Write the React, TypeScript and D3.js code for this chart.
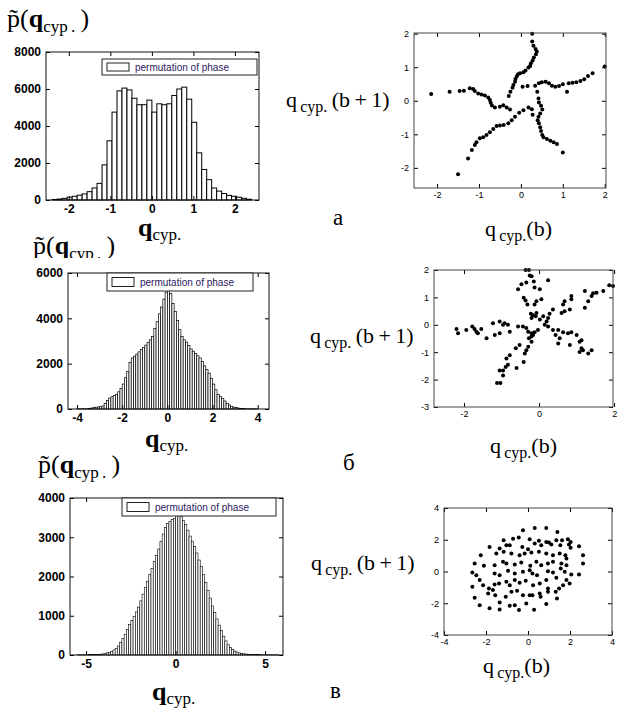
import React, { useEffect, useRef } from "react";
import * as d3 from "d3";

const serif = "'Liberation Serif', 'Times New Roman', serif";
const sans = "'Liberation Sans', Arial, sans-serif";

// ---- histogram а : 40 bins of 0.12 starting at -2.4
const hist1Start = -2.4;
const hist1Step = 0.12;
const hist1Counts = [
  30, 50, 90, 150, 200, 260, 330, 450, 650, 900, 1900,
  3200, 4750, 5900, 6050, 5950, 5500, 5150, 5150, 5400, 4750, 5200, 5150, 5200, 5650, 6000, 6100, 5450, 4200,
  2550, 1650, 1100, 650, 480, 350, 250, 200, 150, 90, 40,
];
const hist1XTicks = [-2, -1, 0, 1, 2];
const hist1YTicks = [0, 2000, 4000, 6000, 8000];

// ---- histogram б : 80 bins of 0.1 starting at -4
const hist2Start = -4;
const hist2Step = 0.1;
const hist2Counts = [
  10, 10, 10, 10, 15, 20, 40, 70, 80, 90,
  100, 130, 250, 380, 480, 540, 600, 650, 760, 900,
  1100, 1380, 1650, 2050, 2250, 2330, 2420, 2520, 2620, 2720,
  2820, 2930, 3050, 3200, 3550, 3850, 4200, 4500, 4850, 5150,
  5300, 5100, 4650, 4300, 3900, 3500, 3200, 3050, 2950, 2800,
  2650, 2550, 2450, 2350, 2250, 2100, 1900, 1750, 1580, 1350,
  1100, 850, 650, 550, 470, 350, 250, 180, 120, 80,
  60, 40, 30, 20, 15, 10, 10, 10, 10, 10,
];
const hist2XTicks = [-4, -2, 0, 2, 4];
const hist2YTicks = [0, 2000, 4000, 6000];

// ---- histogram в : 90 bins of 0.125 starting at -5.5
const hist3Start = -5.5;
const hist3Step = 0.125;
const hist3Counts = [
  5, 5, 5, 5, 5, 8, 8, 10,
  12, 15, 20, 25, 40, 55, 70, 90,
  130, 170, 230, 320, 420, 530, 650, 780,
  880, 980, 1100, 1220, 1380, 1550, 1720, 1880,
  2050, 2200, 2380, 2530, 2700, 2900, 3080, 3250,
  3350, 3400, 3450, 3480, 3550, 3600, 3520, 3430,
  3330, 3180, 3030, 2900, 2760, 2600, 2420, 2250,
  2050, 1850, 1650, 1450, 1250, 1080, 920, 760,
  620, 480, 360, 260, 190, 140, 100, 75,
  55, 40, 30, 25, 18, 15, 12, 10,
  8, 8, 6, 6, 5, 5, 5, 5, 5, 5,
];
const hist3XTicks = [-5, 0, 5];
const hist3YTicks = [0, 1000, 2000, 3000, 4000];

const legendLabel = "permutation of phase";

// ---- scatter а : q(b), q(b+1)
const scatter1Points: [number, number][] = [
  [0.27, 2.0], [0.27, 1.77], [0.3, 1.64], [0.35, 1.54], [0.38, 1.47], [0.36, 1.39], [0.31, 1.29], [0.28, 1.2],
  [0.24, 1.12], [0.22, 1.04], [0.18, 0.99], [0.11, 0.9], [0.06, 0.85], [-0.02, 0.82], [-0.07, 0.79], [-0.1, 0.72],
  [-0.13, 0.65], [-0.14, 0.57], [-0.18, 0.47], [-0.2, 0.39], [-0.25, 0.27], [-0.29, 0.14],
  [2.0, 1.02], [1.71, 0.82], [1.6, 0.74], [1.51, 0.64], [1.42, 0.59], [1.32, 0.55], [1.23, 0.54], [1.14, 0.52],
  [1.1, 0.27], [1.0, 0.49], [0.91, 0.44], [0.82, 0.42], [0.74, 0.45], [0.67, 0.52], [0.59, 0.57], [0.5, 0.55],
  [0.43, 0.52], [0.34, 0.45], [0.16, 0.44], [0.04, 0.42],
  [0.39, 0.27], [0.42, 0.07], [0.43, -0.05], [0.48, -0.15], [0.51, -0.26], [0.46, -0.38], [0.42, -0.48], [0.4, -0.58],
  [0.43, -0.67], [0.46, -0.79], [0.48, -0.9], [0.51, -1.02], [0.54, -1.09], [0.62, -1.14], [0.7, -1.19], [0.78, -1.24],
  [0.86, -1.29], [1.0, -1.54], [0.26, -0.25], [0.28, -0.42],
  [-1.5, -2.19], [-1.26, -1.72], [-1.17, -1.47], [-1.1, -1.32], [-1.06, -1.24], [-0.98, -1.12], [-0.9, -1.09],
  [-0.82, -1.02], [-0.74, -0.94], [-0.66, -0.84], [-0.58, -0.75], [-0.5, -0.74], [-0.41, -0.72], [-0.3, -0.67],
  [-0.22, -0.58], [-0.14, -0.48], [-0.04, -0.36], [0.06, -0.28], [0.18, -0.2],
  [-2.14, 0.2], [-1.7, 0.27], [-1.46, 0.29], [-1.36, 0.3], [-1.22, 0.37], [-1.14, 0.35], [-1.1, 0.29], [-1.02, 0.22],
  [-0.94, 0.19], [-0.86, 0.16], [-0.78, 0.1], [-0.74, 0.02], [-0.72, -0.06], [-0.69, -0.14], [-0.62, -0.2],
  [-0.5, -0.18], [-0.42, -0.13], [-0.34, -0.2], [-0.26, -0.26],
];

// ---- scatter б
const scatter2Points: [number, number][] = [
  [-0.36, 2.0], [-0.27, 2.0], [-0.25, 1.8], [-0.2, 1.77], [-0.34, 1.54], [-0.14, 1.58], [-0.47, 1.48], [-0.56, 1.3],
  [-0.12, 1.36], [0.24, 1.63], [0.02, 1.3], [-0.41, 0.99], [-0.36, 0.89], [-0.31, 0.74], [-0.12, 0.74], [-0.07, 0.86],
  [0.06, 0.93], [-0.22, 0.4], [-0.16, 0.35], [-0.09, 0.31], [-0.07, 0.43], [-0.2, 0.25],
  [1.97, 1.42], [1.87, 1.44], [1.71, 1.23], [1.53, 1.17], [1.44, 1.15], [1.4, 1.05], [1.22, 1.23], [1.31, 0.86],
  [1.22, 0.62], [0.86, 1.05], [0.86, 0.93], [0.68, 0.86], [0.64, 0.74], [0.68, 0.49], [0.82, 0.56], [0.6, 0.43],
  [0.37, 0.56], [0.28, 0.4], [0.24, 0.25], [0.11, 0.31], [0.02, 0.19], [0.2, 0.12], [0.15, 0.0],
  [0.24, -0.06], [0.37, -0.19], [0.51, -0.19], [0.44, -0.37], [0.55, -0.49], [0.51, -0.68], [0.64, -0.27],
  [0.77, -0.31], [0.86, -0.27], [0.82, -0.74], [1.0, -0.37], [1.08, -0.62], [1.13, -0.86], [1.08, -0.99],
  [1.17, -0.93], [1.31, -1.05], [1.4, -0.93], [1.13, -0.56],
  [-2.2, -0.15], [-2.16, -0.31], [-1.94, -0.19], [-1.78, -0.06], [-1.72, -0.15], [-1.67, -0.25], [-1.63, -0.31],
  [-1.54, -0.15], [-1.4, -0.49], [-1.23, 0.06], [-1.18, -0.37], [-1.05, 0.12], [-1.05, -0.31], [-0.96, 0.0],
  [-0.92, 0.06], [-0.83, 0.0], [-0.78, -0.25], [-0.56, -0.06], [-0.43, -0.06], [-0.34, -0.12], [-0.29, -0.25],
  [-0.2, -0.31], [-0.12, -0.27], [-0.16, -0.37], [-0.27, -0.49], [-0.03, -0.19],
  [-1.12, -2.12], [-1.03, -2.12], [-0.96, -1.85], [-1.05, -1.67], [-0.96, -1.67], [-0.89, -1.54], [-0.83, -1.46],
  [-0.87, -1.23], [-0.78, -1.11], [-0.62, -0.86], [-0.6, -1.58], [-0.52, -0.74], [-0.41, -1.36], [-0.38, -1.05],
  [-0.34, -0.93], [-0.29, -0.8], [-0.2, -0.62], [-0.2, -0.43],
];

// ---- scatter в
const scatter3Points: [number, number][] = [
  [0.32, 2.74], [0.87, 2.74], [-0.24, 2.6], [1.4, 2.49],
  [-0.71, 2.07], [-0.44, 2.14], [-1.16, 1.97], [0.08, 2.03], [0.52, 1.93], [0.87, 1.86], [1.0, 1.82], [1.35, 1.97],
  [1.62, 1.97], [1.9, 2.03], [2.03, 1.86],
  [-1.83, 1.55], [-1.03, 1.65], [-1.35, 1.45], [-0.87, 1.65], [-0.27, 1.55], [0.0, 1.4], [0.32, 1.76], [0.63, 1.65],
  [1.11, 1.7], [1.54, 1.65], [1.95, 1.7], [2.03, 1.49], [2.43, 1.59], [2.62, 1.03],
  [-2.25, 1.03], [-1.51, 1.13], [-1.16, 1.24], [-0.79, 1.13], [-0.4, 1.03], [-0.16, 1.13], [0.16, 1.19], [0.52, 1.24],
  [0.87, 1.13], [1.19, 1.03], [1.51, 1.13], [1.78, 1.03], [1.83, 0.82],
  [-2.54, 0.5], [-2.1, 0.36], [-1.59, 0.4], [-1.19, 0.61], [-1.03, 0.5], [-0.63, 0.44], [-0.32, 0.57], [0.11, 0.36],
  [0.4, 0.61], [0.63, 0.4], [0.95, 0.5], [1.19, 0.61], [1.59, 0.5], [1.83, 0.4], [2.62, 0.5],
  [-2.65, -0.06], [-2.46, -0.23], [-2.3, -0.54], [-1.59, -0.13], [-1.35, -0.23], [-0.95, 0.04], [-0.63, -0.13],
  [-0.24, -0.02], [0.08, 0.08], [0.21, -0.13], [0.43, -0.23], [0.95, 0.02], [1.19, -0.06], [1.35, -0.4], [1.56, 0.19],
  [1.75, -0.02], [2.06, -0.19], [1.83, -0.54], [2.43, -0.19],
  [-2.65, -0.96], [-2.14, -0.86], [-1.86, -1.07], [-1.67, -1.17], [-1.59, -0.82], [-1.38, -0.75], [-1.03, -0.65],
  [-0.87, -0.86], [-0.63, -0.54], [-0.4, -0.71], [-0.11, -0.59], [0.24, -0.86], [0.56, -0.75], [0.87, -0.54],
  [0.95, -1.07], [1.32, -1.28], [1.48, -1.07], [1.67, -0.86], [1.98, -0.75],
  [-2.54, -1.65], [-1.9, -1.38], [-1.56, -1.49], [-1.35, -1.95], [-1.06, -1.59], [-0.79, -1.28], [-0.52, -1.21],
  [-0.24, -1.49], [0.08, -1.49], [0.21, -1.49], [0.56, -1.38], [0.6, -1.59], [0.95, -1.28], [1.38, -1.7],
  [-2.3, -2.12], [-1.83, -2.32], [-1.35, -2.39], [-0.87, -2.16], [-0.63, -2.12], [-0.43, -2.43], [-0.08, -2.01],
  [0.29, -2.41], [0.87, -2.05],
];
const scatter1XTicks = [-2, -1, 0, 1, 2];
const scatter1YTicks = [-2, -1, 0, 1, 2];
const scatter2XTicks = [-2, 0, 2];
const scatter2YTicks = [-3, -2, -1, 0, 1, 2];
const scatter3Ticks = [-4, -2, 0, 2, 4];

type Box = { left: number; top: number; right: number; bottom: number };
type Sel = d3.Selection<SVGSVGElement, unknown, null, undefined>;

function drawFrame(svg: Sel, box: Box, x: any, y: any, xTicks: number[], yTicks: number[], bold: boolean, size: number) {
  const g = svg.append("g");
  const fmt = (d: any) => String(d);
  const none = () => "";
  const style = (a: any) => {
    a.select(".domain").remove();
    a.selectAll("line").attr("stroke", "#000");
    a.selectAll("text")
      .style("font-family", sans)
      .style("font-size", size + "px")
      .style("font-weight", bold ? "bold" : "normal")
      .attr("fill", "#000");
  };
  g.append("g").attr("transform", `translate(0,${box.bottom})`)
    .call(d3.axisBottom(x).tickValues(xTicks).tickSize(-4).tickPadding(4).tickFormat(fmt)).call(style);
  g.append("g").attr("transform", `translate(0,${box.top})`)
    .call(d3.axisTop(x).tickValues(xTicks).tickSize(-4).tickFormat(none)).call(style);
  g.append("g").attr("transform", `translate(${box.left},0)`)
    .call(d3.axisLeft(y).tickValues(yTicks).tickSize(-4).tickPadding(5).tickFormat(fmt)).call(style);
  g.append("g").attr("transform", `translate(${box.right},0)`)
    .call(d3.axisRight(y).tickValues(yTicks).tickSize(-4).tickFormat(none)).call(style);
  g.append("rect")
    .attr("x", box.left).attr("y", box.top)
    .attr("width", box.right - box.left).attr("height", box.bottom - box.top)
    .attr("fill", "none").attr("stroke", bold ? "#111" : "#444").attr("stroke-width", 1);
}

function drawHist(svg: Sel, box: Box, xDomain: [number, number], yMax: number, start: number, step: number,
  counts: number[], xTicks: number[], yTicks: number[], legend: Box, strokeW: number) {
  const x = d3.scaleLinear().domain(xDomain).range([box.left, box.right]);
  const y = d3.scaleLinear().domain([0, yMax]).range([box.bottom, box.top]);
  svg.append("rect").attr("x", box.left).attr("y", box.top)
    .attr("width", box.right - box.left).attr("height", box.bottom - box.top).attr("fill", "#fff");
  svg.append("g").selectAll("rect").data(counts).enter().append("rect")
    .attr("x", (_d, i) => x(start + i * step))
    .attr("width", (_d, i) => x(start + (i + 1) * step) - x(start + i * step))
    .attr("y", (d) => y(d))
    .attr("height", (d) => y(0) - y(d))
    .attr("fill", "#fff")
    .attr("stroke", "#000")
    .attr("stroke-width", strokeW);
  drawFrame(svg, box, x, y, xTicks, yTicks, true, 12);
  // legend
  svg.append("rect").attr("x", legend.left).attr("y", legend.top)
    .attr("width", legend.right - legend.left).attr("height", legend.bottom - legend.top)
    .attr("fill", "#fff").attr("stroke", "#222");
  const h = legend.bottom - legend.top;
  svg.append("rect").attr("x", legend.left + 5).attr("y", legend.top + h * 0.25)
    .attr("width", 22).attr("height", h * 0.5)
    .attr("fill", "#fff").attr("stroke", "#222");
  svg.append("text").attr("x", legend.left + 33).attr("y", legend.top + h / 2 + 3.5)
    .style("font-family", sans).style("font-size", "10px").attr("fill", "#2d2060")
    .text(legendLabel);
}

function drawScatter(svg: Sel, box: Box, xDomain: [number, number], yDomain: [number, number],
  pts: [number, number][], xTicks: number[], yTicks: number[]) {
  const x = d3.scaleLinear().domain(xDomain).range([box.left, box.right]);
  const y = d3.scaleLinear().domain(yDomain).range([box.bottom, box.top]);
  svg.append("rect").attr("x", box.left).attr("y", box.top)
    .attr("width", box.right - box.left).attr("height", box.bottom - box.top).attr("fill", "#fff");
  svg.append("g").selectAll("circle").data(pts).enter().append("circle")
    .attr("cx", (d) => x(d[0]))
    .attr("cy", (d) => y(d[1]))
    .attr("r", 2)
    .attr("fill", "#000");
  drawFrame(svg, box, x, y, xTicks, yTicks, false, 9);
}

type Part = { t: string; size: number; bold?: boolean; shift?: number };
function richText(svg: Sel, x: number, y: number, parts: Part[]) {
  const text = svg.append("text").attr("x", x).attr("y", y)
    .style("font-family", serif).attr("fill", "#000");
  let cur = 0;
  parts.forEach((p) => {
    const s = p.shift ?? 0;
    text.append("tspan").attr("dy", s - cur)
      .style("font-size", p.size + "px")
      .style("font-weight", p.bold ? "bold" : "normal")
      .text(p.t);
    cur = s;
  });
}

const titleParts: Part[] = [
  { t: "p\u0303", size: 26 }, { t: "(", size: 26 }, { t: "q", size: 26, bold: true },
  { t: "cyp\u2009.", size: 17, shift: 5 }, { t: "\u2009)", size: 26 },
];
const histXParts: Part[] = [{ t: "q", size: 26, bold: true }, { t: "cyp.", size: 17, shift: 4 }];
const yLabelParts: Part[] = [
  { t: "q", size: 22 }, { t: "\u2009cyp.", size: 16, shift: 5 }, { t: "\u2009(b\u2009+\u20091)", size: 22 },
];
const xLabelParts: Part[] = [{ t: "q", size: 22 }, { t: "\u2009cyp.", size: 16, shift: 5 }, { t: "(b)", size: 22 }];

function MakeFigure(ref: React.MutableRefObject<SVGSVGElement | null>) {
  const svg = d3.select(ref.current as SVGSVGElement) as Sel;
  svg.selectAll("*").remove();
  svg.append("rect").attr("width", 626).attr("height", 708).attr("fill", "#fff");

  // row а
  richText(svg, 7, 27, titleParts);
  drawHist(svg, { left: 46, top: 52, right: 259, bottom: 200 }, [-2.55, 2.58], 8000,
    hist1Start, hist1Step, hist1Counts, hist1XTicks, hist1YTicks, { left: 102, top: 59, right: 257, bottom: 75 }, 1);
  richText(svg, 138, 236, histXParts);
  drawScatter(svg, { left: 414, top: 33, right: 606, bottom: 188 }, [-2.55, 2.03], [-2.6, 2.02],
    scatter1Points, scatter1XTicks, scatter1YTicks);
  richText(svg, 286, 107, yLabelParts);
  richText(svg, 485, 236, xLabelParts);
  svg.append("text").attr("x", 333).attr("y", 225).style("font-family", serif).style("font-size", "23px").text("а");

  // row б
  richText(svg, 33, 254, titleParts);
  svg.append("rect").attr("x", 28).attr("y", 258).attr("width", 110).attr("height", 8).attr("fill", "#fff");
  drawHist(svg, { left: 68, top: 273, right: 269, bottom: 409 }, [-4.4, 4.5], 6000,
    hist2Start, hist2Step, hist2Counts, hist2XTicks, hist2YTicks, { left: 107, top: 273, right: 253, bottom: 291 }, 0.7);
  richText(svg, 145, 447, histXParts);
  drawScatter(svg, { left: 434, top: 270, right: 613, bottom: 407 }, [-2.8, 1.97], [-3, 2],
    scatter2Points, scatter2XTicks, scatter2YTicks);
  richText(svg, 310, 343, yLabelParts);
  richText(svg, 490, 453, xLabelParts);
  svg.append("text").attr("x", 343).attr("y", 470).style("font-family", serif).style("font-size", "23px").text("б");

  // row в
  richText(svg, 38, 473, titleParts);
  drawHist(svg, { left: 70, top: 498, right: 283, bottom: 655 }, [-5.9, 6.0], 4000,
    hist3Start, hist3Step, hist3Counts, hist3XTicks, hist3YTicks, { left: 122, top: 498, right: 276, bottom: 516 }, 0.6);
  richText(svg, 152, 700, histXParts);
  drawScatter(svg, { left: 444, top: 508, right: 612, bottom: 635 }, [-4, 4], [-4, 4],
    scatter3Points, scatter3Ticks, scatter3Ticks);
  richText(svg, 311, 570, yLabelParts);
  richText(svg, 483, 673, xLabelParts);
  svg.append("text").attr("x", 330).attr("y", 698).style("font-family", serif).style("font-size", "23px").text("в");
}

const App = () => {
  const ref = useRef<SVGSVGElement | null>(null);
  useEffect(() => {
    MakeFigure(ref);
  }, []);
  return (
    <svg ref={ref} width={626} height={708}
      style={{ position: "absolute", left: 0, top: 0, background: "#fff" }} />
  );
};

export default App;
